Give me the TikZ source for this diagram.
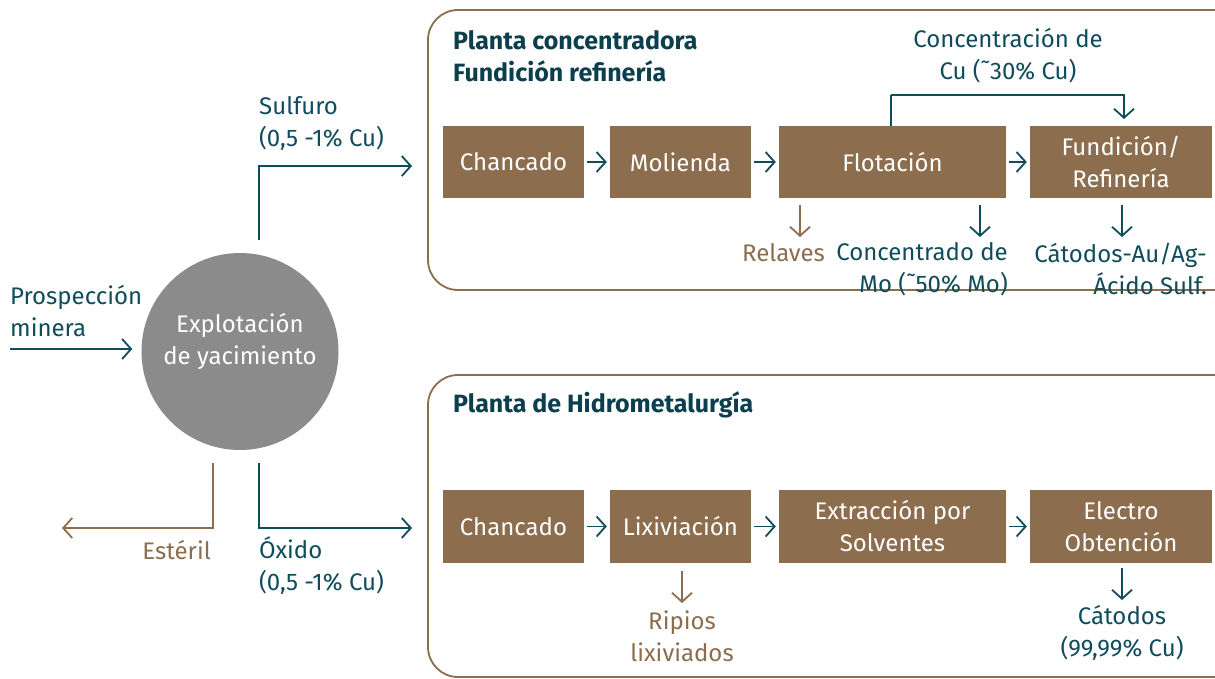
\documentclass[tikz,border=0pt]{standalone}
\usepackage{fontspec}
\setmainfont{Fira Sans}
\usetikzlibrary{arrows.meta,calc}
\definecolor{myteal}{HTML}{0F4C5C}
\definecolor{titleteal}{HTML}{0B3F4E}
\definecolor{mybrown}{HTML}{8C6E4F}
\definecolor{circgray}{HTML}{8A8B8A}
\begin{document}
\begin{tikzpicture}[x=1pt,y=-1pt,
  txt/.style={font=\fontsize{24}{32}\selectfont, inner sep=0pt},
  ttxt/.style={txt, text=myteal},
  btxt/.style={txt, text=mybrown},
  title/.style={font=\fontsize{25}{32}\bfseries\selectfont, inner sep=0pt, text=titleteal, align=left, anchor=west},
  pbox/.style={fill=mybrown, text=white, font=\fontsize{24}{32}\selectfont, align=center, inner sep=0pt, minimum height=72pt},
  panel/.style={draw=mybrown, line width=1.8pt, rounded corners=30pt},
  tarr/.style={draw=myteal, line width=1.8pt, -{Straight Barb[length=9pt,width=20pt,line width=1.8pt]}},
  barr/.style={draw=mybrown, line width=1.8pt, -{Straight Barb[length=9pt,width=20pt,line width=1.8pt]}},
  tline/.style={draw=myteal, line width=1.8pt}
]
\useasboundingbox (0,0) rectangle (1215,679);
\fill[white] (0,0) rectangle (1215,679);
\clip (0,0) rectangle (1215,679);

% panels
\draw[panel] (428,10) rectangle (1250,290);
\draw[panel] (428,375) rectangle (1250,677);
\node[title] (t1) at (453,56) {Planta concentradora\\Fundición refinería};
\node[title] (t2) at (453,405) {Planta de Hidrometalurgía};

% circle
\node[circle, fill=circgray, minimum size=197pt, inner sep=0pt] (ex) at (240,351.5) {};
\node[txt, text=white, align=center] (extxt) at (240,341) {Explotación\\de yacimiento};

% prospeccion
\node[ttxt, align=left, anchor=west] (pros) at (10,311) {Prospección\\minera};
\coordinate (prosS) at (10,349);
\draw[tarr, shorten >=9pt] (prosS) -- (ex.west |- prosS);
% sulfuro
\coordinate (sulS) at (259,240);
\coordinate (sulE) at (412,166);
\draw[tarr] (sulS) |- (sulE);
\node[ttxt, align=left, anchor=west] (sul) at (259,123.5) {Sulfuro\\(0,5 -1\% Cu)};
% oxido
\coordinate (oxS) at (259,463);
\coordinate (oxE) at (412,528);
\draw[tarr] (oxS) |- (oxE);
\node[ttxt, align=left, anchor=west] (ox) at (259,566) {Óxido\\(0,5 -1\% Cu)};
% esteril
\coordinate (esS) at (213,463);
\coordinate (esE) at (62,528);
\draw[barr] (esS) |- (esE);
\node[btxt, anchor=east] (es) at (211,550) {Estéril};

% top row
\node[pbox, minimum width=141pt] (c1) at (513.5,162) {Chancado};
\node[pbox, minimum width=141pt] (m1) at (680.5,162) {Molienda};
\node[pbox, minimum width=227pt] (f1) at (892.5,162) {Flotación};
\node[pbox, minimum width=182pt] (r1) at (1121,162) {Fundición/\\Refinería};
\draw[tarr, shorten <=3pt, shorten >=3pt] (c1) -- (m1);
\draw[tarr, shorten <=3pt, shorten >=3pt] (m1) -- (f1);
\draw[tarr, shorten <=3pt, shorten >=3pt] (f1) -- (r1);

% concentracion de cu
\node[ttxt, align=center] (ccu) at (1008,56) {Concentración de\\Cu (˜30\% Cu)};
\coordinate (ccuA) at (891,95);
\draw[tline] (891,126) -- (ccuA);
\draw[tarr] (ccuA) -| (1124,119);

% down arrows top
\node[btxt] (rel) at (783.5,253) {Relaves};
\draw[barr] (800,205) -- (800,237);
\node[ttxt, align=right, anchor=east] (mo) at (1008,269) {Concentrado de\\Mo (˜50\% Mo)};
\draw[tarr] (980,205) -- (980,237);
\node[ttxt, align=right, anchor=east] (cat1) at (1207,269) {Cátodos-Au/Ag-\\Ácido Sulf.};
\draw[tarr] (1122,205) -- (1122,237);

% bottom row
\node[pbox, minimum width=141pt, minimum height=73pt] (c2) at (513.5,526.5) {Chancado};
\node[pbox, minimum width=141pt, minimum height=73pt] (l2) at (680.5,526.5) {Lixiviación};
\node[pbox, minimum width=227pt, minimum height=73pt] (s2) at (892.5,526.5) {Extracción por\\Solventes};
\node[pbox, minimum width=182pt, minimum height=73pt] (e2) at (1121,526.5) {Electro\\Obtención};
\draw[tarr, shorten <=3pt, shorten >=3pt] (c2) -- (l2);
\draw[tarr, shorten <=3pt, shorten >=3pt] (l2) -- (s2);
\draw[tarr, shorten <=3pt, shorten >=3pt] (s2) -- (e2);

\draw[barr] (682,571) -- (682,603);
\node[btxt, align=center] (rip) at (682,636) {Ripios\\lixiviados};
\draw[tarr] (1122,568) -- (1122,600);
\node[ttxt, align=center] (cat2) at (1122,633) {Cátodos\\(99,99\% Cu)};
\end{tikzpicture}
\end{document}
